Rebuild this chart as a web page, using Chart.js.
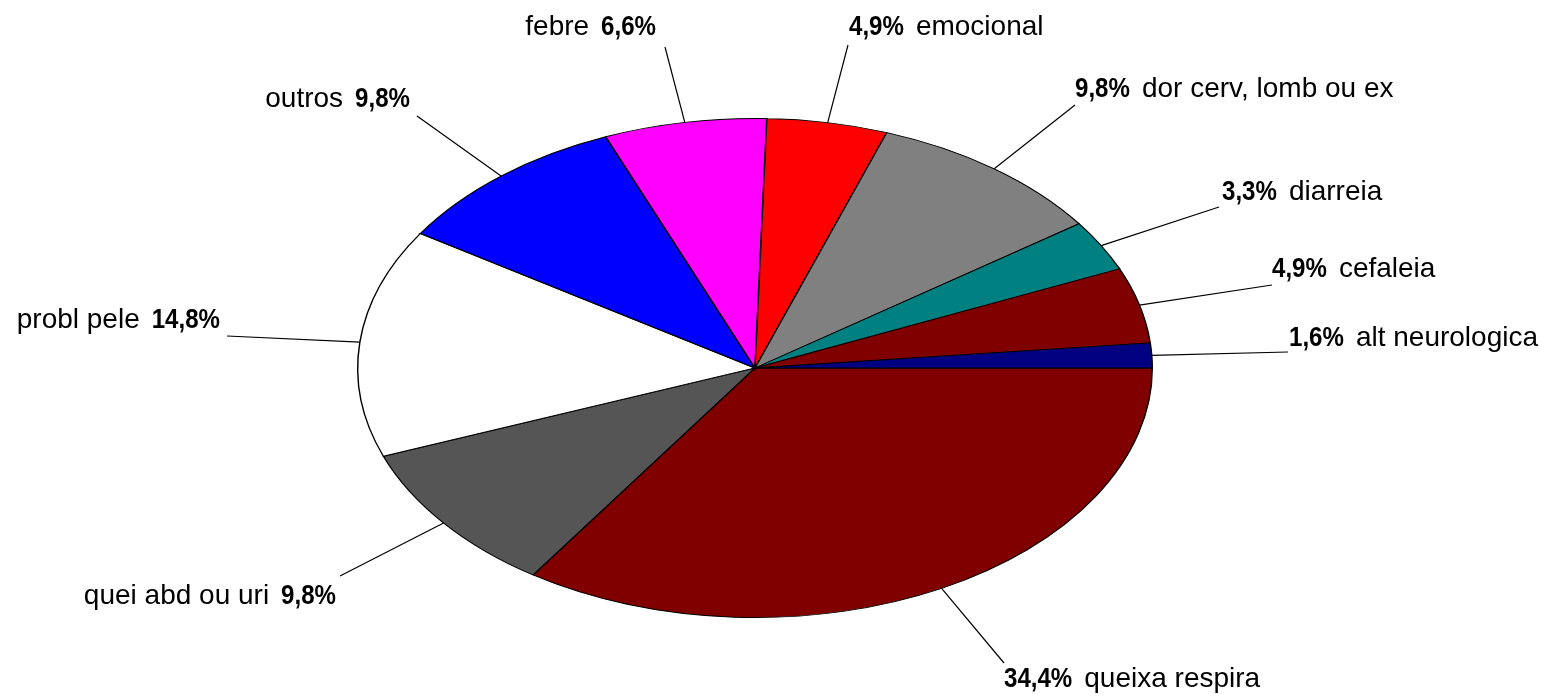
<!DOCTYPE html>
<html>
<head>
<meta charset="utf-8">
<script src="https://cdn.jsdelivr.net/npm/chart.js@4"></script>
<style>
html,body{margin:0;padding:0;background:#fff;}
#wrap{width:1550px;height:698px;}
</style>
</head>
<body>
<div id="wrap"><canvas id="c" width="1550" height="698"></canvas></div>
<script>
// Categories, clockwise from 3 o'clock
const categories = ["queixa respira","quei abd ou uri","probl pele","outros","febre","emocional","dor cerv, lomb ou ex","diarreia","cefaleia","alt neurologica"];
const values = [34.4, 9.8, 14.8, 9.8, 6.6, 4.9, 9.8, 3.3, 4.9, 1.6];
const pctLabels = ["34,4%","9,8%","14,8%","9,8%","6,6%","4,9%","9,8%","3,3%","4,9%","1,6%"];
const colors = ["#800000","#555555","#ffffff","#0000ff","#ff00ff","#ff0000","#808080","#008080","#800000","#000080"];

// Label layout: [textX, baselineY, side ('L' = name then pct, right-aligned; 'R' = pct then name, left-aligned), lineEndX, lineEndY]
const labelLayout = [
  [1004, 687, 'R', 1004, 663],
  [336, 604, 'L', 340, 576],
  [220, 328, 'L', 227, 336],
  [410, 107, 'L', 417, 116],
  [656, 35, 'L', 665, 47],
  [849, 35, 'R', 848, 45],
  [1075, 97, 'R', 1075, 105],
  [1222, 200, 'R', 1219, 207],
  [1272, 277, 'R', 1272, 285],
  [1289, 346, 'R', 1288, 352]
];

const SX = 398 / 250;   // horizontal stretch to make the ellipse
const PCT_SX = 0.86;    // condensed bold percentages

const ellipsePlugin = {
  id: 'ellipse',
  beforeDatasetsDraw(chart) {
    const a = chart.getDatasetMeta(0).data[0];
    const ctx = chart.ctx;
    ctx.save();
    ctx.translate(a.x, a.y);
    ctx.scale(SX, 1);
    ctx.translate(-a.x, -a.y);
  },
  afterDatasetsDraw(chart) {
    chart.ctx.restore();
  },
  afterDraw(chart) {
    const ctx = chart.ctx;
    const meta = chart.getDatasetMeta(0);
    const nameFont = "28px 'Liberation Sans', Arial, sans-serif";
    const pctFont = "bold 28px 'Liberation Sans', Arial, sans-serif";
    const gap = 12;
    const drawPct = (txt, x, y) => {
      ctx.save();
      ctx.font = pctFont;
      ctx.translate(x, y);
      ctx.scale(PCT_SX, 1);
      ctx.fillText(txt, 0, 0);
      ctx.restore();
    };
    meta.data.forEach((arc, i) => {
      const mid = (arc.startAngle + arc.endAngle) / 2;
      const px = arc.x + SX * arc.outerRadius * Math.cos(mid);
      const py = arc.y + arc.outerRadius * Math.sin(mid);
      const L = labelLayout[i];
      ctx.save();
      ctx.strokeStyle = '#000';
      ctx.lineWidth = 1.2;
      ctx.beginPath();
      ctx.moveTo(px, py);
      ctx.lineTo(L[3], L[4]);
      ctx.stroke();
      ctx.fillStyle = '#000';
      ctx.textBaseline = 'alphabetic';
      ctx.textAlign = 'left';
      ctx.font = pctFont;
      const w = ctx.measureText(pctLabels[i]).width * PCT_SX;
      if (L[2] === 'R') {
        drawPct(pctLabels[i], L[0], L[1]);
        ctx.font = nameFont;
        ctx.fillText(categories[i], L[0] + w + gap, L[1]);
      } else {
        drawPct(pctLabels[i], L[0] - w, L[1]);
        ctx.font = nameFont;
        const nw = ctx.measureText(categories[i]).width;
        ctx.fillText(categories[i], L[0] - w - gap - nw, L[1]);
      }
      ctx.restore();
    });
  }
};

new Chart(document.getElementById('c'), {
  type: 'pie',
  data: {
    labels: categories,
    datasets: [{
      data: values,
      backgroundColor: colors,
      borderColor: '#000000',
      borderWidth: 0.9,
      borderJoinStyle: 'miter'
    }]
  },
  options: {
    responsive: false,
    animation: false,
    rotation: 90,
    layout: { padding: { left: 505, right: 545, top: 118, bottom: 80 } },
    plugins: {
      legend: { display: false },
      tooltip: { enabled: false },
      title: { display: false }
    },
    events: []
  },
  plugins: [ellipsePlugin]
});
</script>
</body>
</html>
